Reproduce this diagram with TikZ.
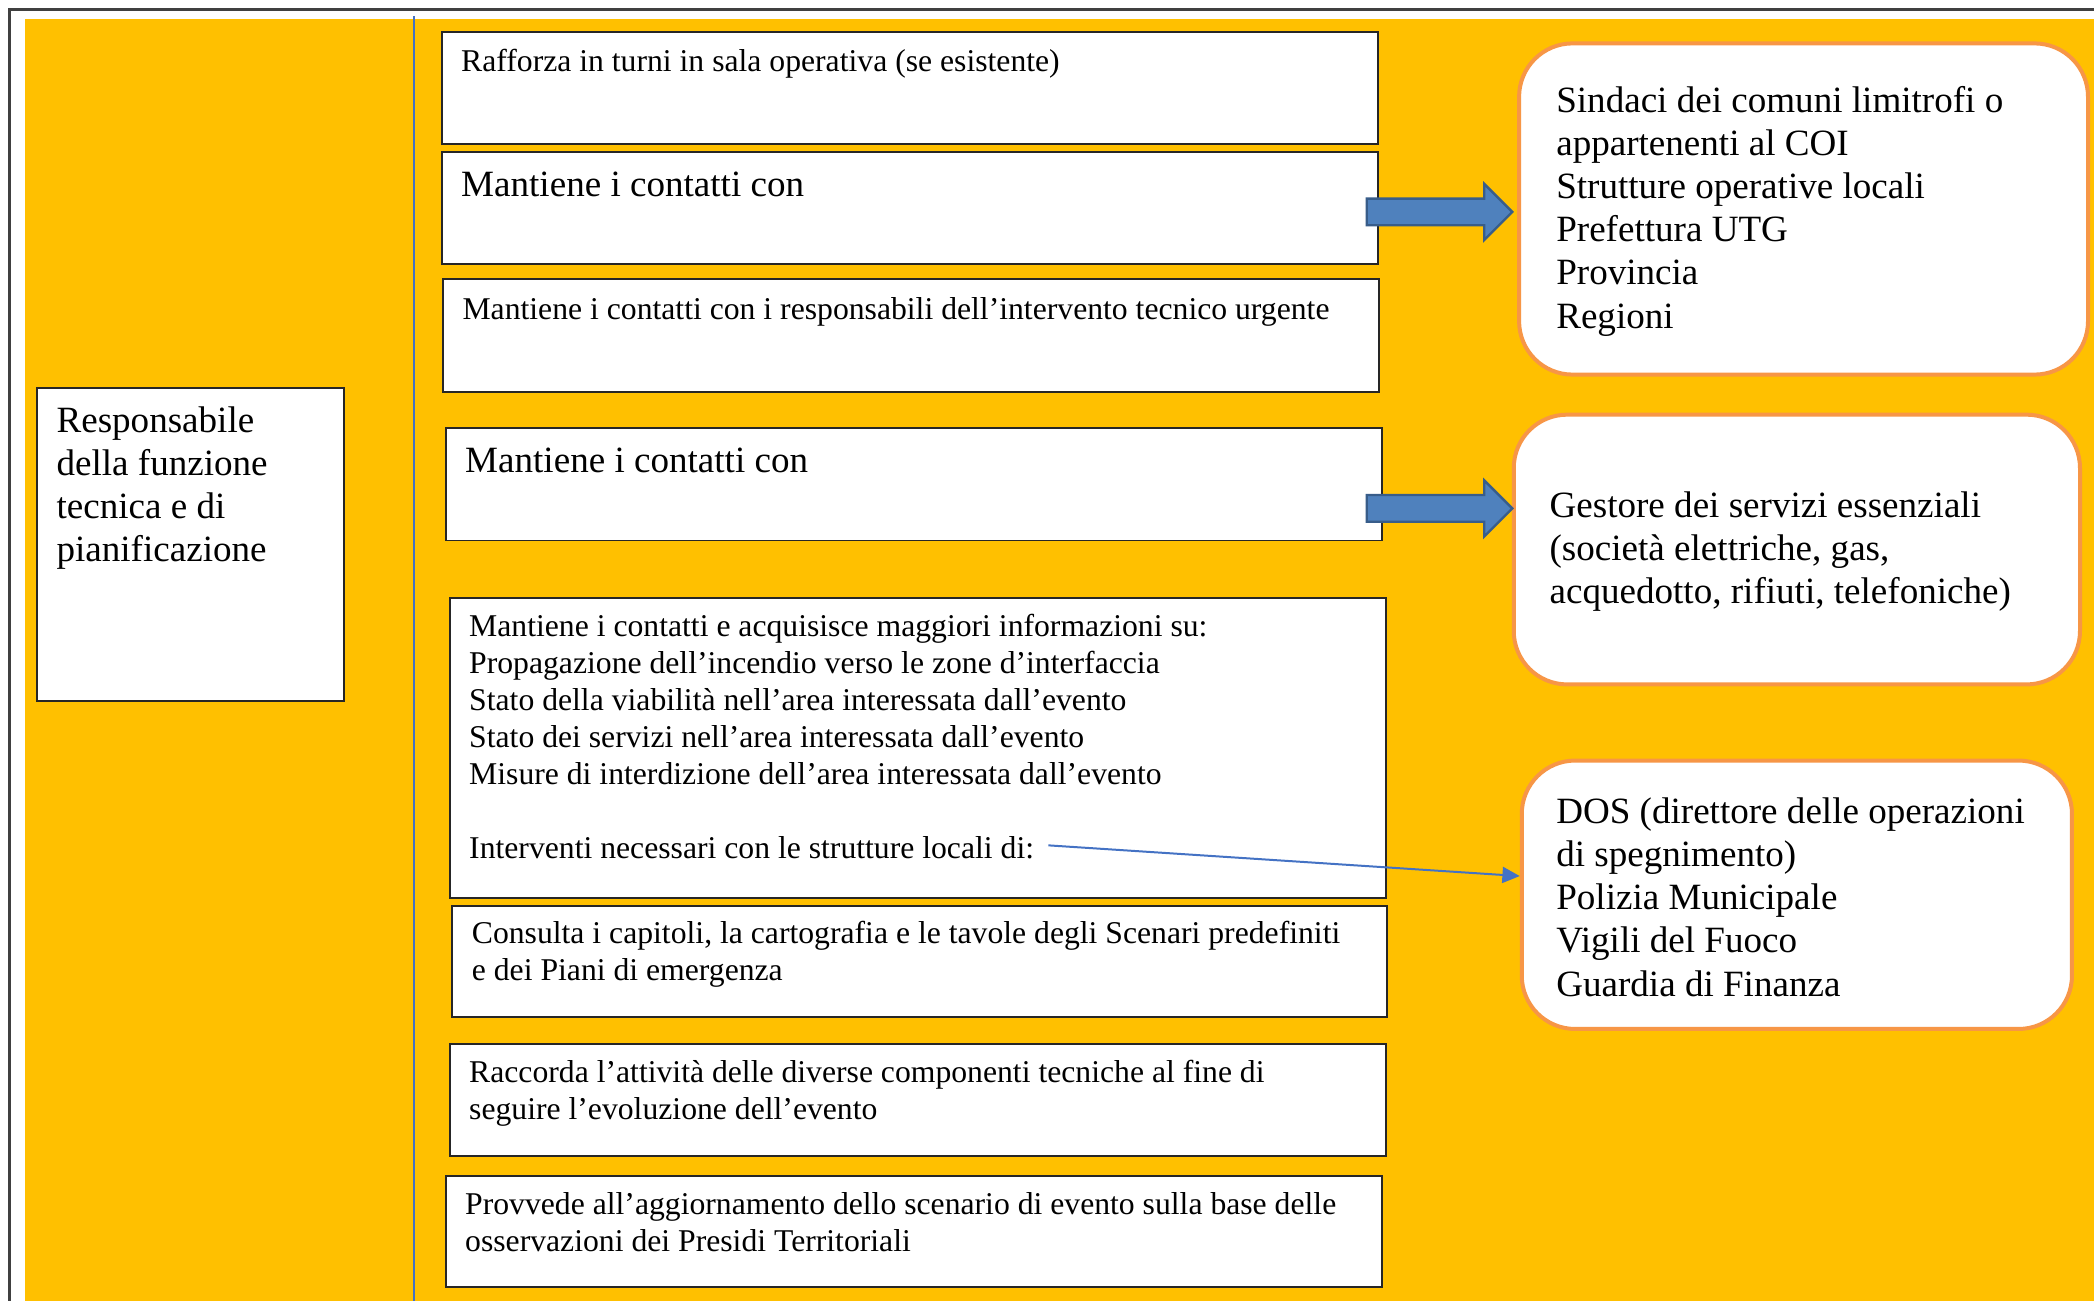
\documentclass[tikz,border=0pt]{standalone}
\usepackage{fontspec}
\setmainfont{Liberation Serif}
\usepackage{xcolor}
\usepackage{tikz}
\usetikzlibrary{
  arrows.meta,
  positioning,
  calc
}

\definecolor{sfondo}{HTML}{FFC000}
\definecolor{bordoarancio}{HTML}{F79646}
\definecolor{freccia}{HTML}{4F81BD}
\definecolor{frecciabordo}{HTML}{385D8A}
\definecolor{lineablu}{HTML}{4472C4}

\tikzset{
  azione/.style={draw=black!85, line width=0.8pt, fill=white, inner sep=0pt, anchor=north west},
  ente/.style={draw=bordoarancio, line width=1.7pt, fill=white, rounded corners=8mm, inner sep=0pt, anchor=north west},
  piccolo/.style={font=\fontsize{13.5}{15.8}\selectfont, align=left, inner sep=0pt},
  grande/.style={font=\fontsize{15.8}{18.4}\selectfont, align=left, inner sep=0pt},
  cornice/.style={draw=black!75, line width=1pt},
  bigarrow/.style={fill=freccia, draw=frecciabordo, line width=1pt, line join=miter}
}

\begin{document}
\begin{tikzpicture}[x=0.2mm, y=-0.2mm]
  \useasboundingbox (0,0) rectangle (1568,974);
  % background and frame
  \fill[sfondo] (19,14) rectangle (1568,974);
  \draw[cornice] (7,974) -- (7,7) -- (1568,7);
  \draw[lineablu, line width=0.6pt] (310,12) -- (310,974);

  % left box
  \node[azione, minimum width=46mm, minimum height=46.8mm] (resp) at (27,290) {};
  \node[grande, below right=2.1mm and 3mm of resp.north west] (resp-t)
    {\strut Responsabile\\della funzione\\tecnica e di\\pianificazione};

  % column of actions
  \node[azione, minimum width=140.2mm, minimum height=16.8mm] (b1) at (330,23) {};
  \node[piccolo, below right=2.1mm and 3mm of b1.north west] (b1-t)
    {\strut Rafforza in turni in sala operativa (se esistente)};

  \node[azione, minimum width=140.2mm, minimum height=16.8mm] (b2) at (330,113) {};
  \node[grande, below right=2.3mm and 3mm of b2.north west] (b2-t)
    {\strut Mantiene i contatti con};

  \node[azione, minimum width=140.2mm, minimum height=17mm] (b3) at (331,208) {};
  \node[piccolo, below right=2.3mm and 3mm of b3.north west] (b3-t)
    {\strut Mantiene i contatti con i responsabili dell’intervento tecnico urgente};

  \node[azione, minimum width=140.2mm, minimum height=16.8mm] (b4) at (333,320) {};
  \node[grande, below right=2.1mm and 3mm of b4.north west] (b4-t)
    {\strut Mantiene i contatti con};

  \node[azione, minimum width=140.2mm, minimum height=45mm] (b5) at (336,447) {};
  \node[piccolo, below right=1.9mm and 3mm of b5.north west] (b5-t)
    {\strut Mantiene i contatti e acquisisce maggiori informazioni su:\\
     Propagazione dell’incendio verso le zone d’interfaccia\\
     Stato della viabilità nell’area interessata dall’evento\\
     Stato dei servizi nell’area interessata dall’evento\\
     Misure di interdizione dell’area interessata dall’evento\\[15.8pt]
     Interventi necessari con le strutture locali di:};

  \node[azione, minimum width=140mm, minimum height=16.6mm] (b6) at (338,678) {};
  \node[piccolo, below right=1.7mm and 3mm of b6.north west] (b6-t)
    {\strut Consulta i capitoli, la cartografia e le tavole degli Scenari predefiniti\\
     e dei Piani di emergenza};

  \node[azione, minimum width=140.2mm, minimum height=16.8mm] (b7) at (336,781) {};
  \node[piccolo, below right=1.9mm and 3mm of b7.north west] (b7-t)
    {\strut Raccorda l’attività delle diverse componenti tecniche al fine di\\
     seguire l’evoluzione dell’evento};

  \node[azione, minimum width=140.2mm, minimum height=16.6mm] (b8) at (333,880) {};
  \node[piccolo, below right=1.9mm and 3mm of b8.north west] (b8-t)
    {\strut Provvede all’aggiornamento dello scenario di evento sulla base delle\\
     osservazioni dei Presidi Territoriali};

  % contacts on the right
  \node[ente, minimum width=85.2mm, minimum height=49.6mm] (sind) at (1136,31) {};
  \node[grande, right=5.8mm of sind.west] (sind-t)
    {\strut Sindaci dei comuni limitrofi o\\appartenenti al COI\\Strutture operative locali\\
     Prefettura UTG\\Provincia\\Regioni};

  \node[ente, minimum width=84.8mm, minimum height=40.4mm] (gest) at (1132,309) {};
  \node[grande, right=5.6mm of gest.west] (gest-t)
    {\strut Gestore dei servizi essenziali\\(società elettriche, gas,\\acquedotto, rifiuti, telefoniche)};

  \node[ente, minimum width=82.4mm, minimum height=40.2mm] (dos) at (1138,568) {};
  \node[grande, right=5.4mm of dos.west] (dos-t)
    {\strut DOS (direttore delle operazioni\\di spegnimento)\\Polizia Municipale\\
     Vigili del Fuoco\\Guardia di Finanza};

  % block arrows
  \coordinate (fr1) at ([xshift=-1.8mm, yshift=-0.6mm]b2.east);
  \coordinate (fr2) at ([xshift=-2.4mm, yshift=-3.6mm]b4.east);
  \foreach \a in {fr1,fr2}{
    \draw[bigarrow] (\a) ++(0,-10) -- ++(88,0) -- ++(0,-11) -- ++(21,21)
      -- ++(-21,21) -- ++(0,-11) -- ++(-88,0) -- cycle;
  }

  % thin arrow to DOS
  \coordinate (intv) at (785,633);
  \draw[lineablu, line width=0.85pt, -{Triangle[length=2.6mm, width=2.4mm]}]
    (intv) -- ([yshift=2.8mm]dos.west);
\end{tikzpicture}
\end{document}
